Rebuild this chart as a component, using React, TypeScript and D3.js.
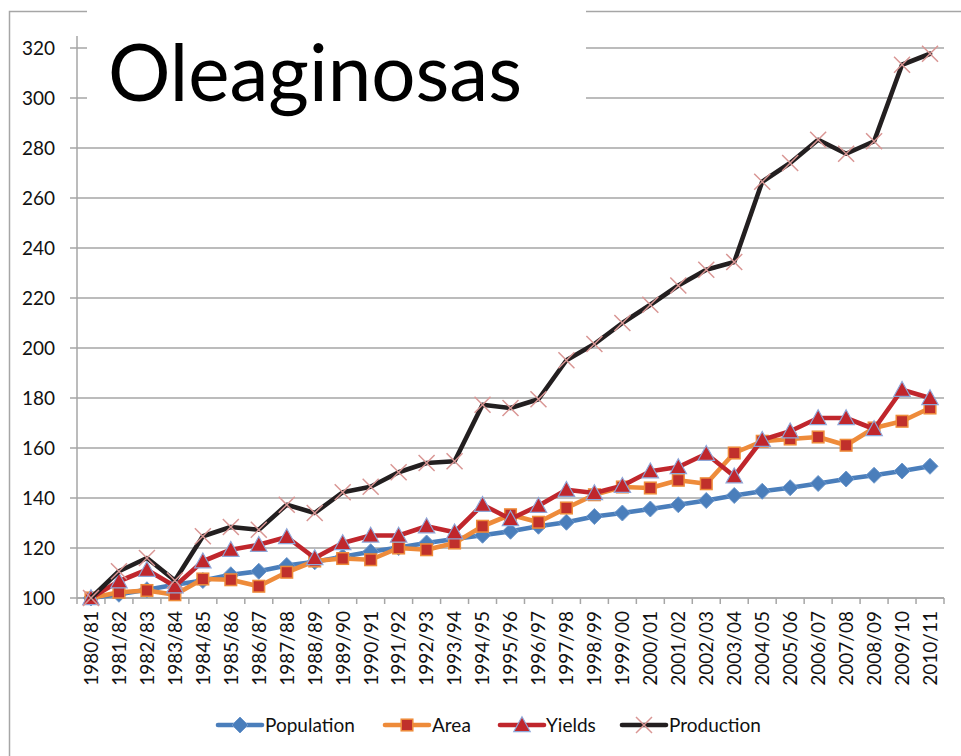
import React from 'react';
import * as d3 from 'd3';

const categories = [
  '1980/81', '1981/82', '1982/83', '1983/84', '1984/85', '1985/86', '1986/87', '1987/88',
  '1988/89', '1989/90', '1990/91', '1991/92', '1992/93', '1993/94', '1994/95', '1995/96',
  '1996/97', '1997/98', '1998/99', '1999/00', '2000/01', '2001/02', '2002/03', '2003/04',
  '2004/05', '2005/06', '2006/07', '2007/08', '2008/09', '2009/10', '2010/11',
];

const population = [100, 101.5, 103.3, 105.3, 107, 109.3, 110.7, 113, 114.5, 116.5, 118.5, 120.2, 122, 123.6, 125.1, 126.7, 128.7, 130.3, 132.6, 134, 135.6, 137.3, 139, 141, 142.7, 144.1, 145.8, 147.6, 149.1, 150.8, 152.7];
const area = [100, 102.3, 103, 101.3, 107.6, 107.3, 104.7, 110.3, 114.8, 115.8, 115.3, 120, 119.3, 122, 128.7, 133.3, 130.3, 136, 141.3, 144.4, 144, 147.1, 145.7, 158, 162.7, 163.6, 164.4, 161.1, 168, 170.7, 176];
const yields = [100, 106.7, 111.3, 104.7, 114.7, 119.3, 121.3, 124.4, 116, 122, 125, 125, 128.7, 126.3, 137.3, 131.6, 136.9, 143.3, 142, 144.9, 150.7, 152.4, 157.7, 148.7, 163.3, 166.7, 172, 172, 167.6, 183.3, 180];
const production = [100, 110.7, 116, 107, 124.7, 128.4, 127.3, 137.3, 134, 142.3, 144.5, 150.3, 154, 154.7, 177.3, 176, 179.5, 195.1, 201.6, 210, 217.3, 225, 231.3, 234.4, 266.5, 274, 283.3, 277.7, 282.7, 313.3, 317.7];

const yTicks = [100, 120, 140, 160, 180, 200, 220, 240, 260, 280, 300, 320];
const seriesNames = ['Population', 'Area', 'Yields', 'Production'];
const titleText = 'Oleaginosas';

const W = 961;
const H = 756;
const FONT = 'Lato, "Open Sans", sans-serif';
const GRID = '#A6A6A6';

type MarkerKind = 'diamond' | 'square' | 'triangle' | 'x';

const styles: { line: string; fill: string; stroke: string; kind: MarkerKind }[] = [
  { line: '#4A7EBB', fill: '#4A7EBB', stroke: '#6E98CC', kind: 'diamond' },
  { line: '#EE8B3A', fill: '#C0302B', stroke: '#EE8B3A', kind: 'square' },
  { line: '#C0262C', fill: '#C0262C', stroke: '#8EA6D8', kind: 'triangle' },
  { line: '#231F20', fill: 'none', stroke: '#D99694', kind: 'x' },
];

function Marker({ kind, x, y, fill, stroke }: { kind: MarkerKind; x: number; y: number; fill: string; stroke: string }) {
  if (kind === 'diamond') {
    const r = 8;
    return <path d={`M${x},${y - r}L${x + r},${y}L${x},${y + r}L${x - r},${y}Z`} fill={fill} stroke={stroke} strokeWidth={1} />;
  }
  if (kind === 'square') {
    const r = 5.8;
    return <rect x={x - r} y={y - r} width={2 * r} height={2 * r} fill={fill} stroke={stroke} strokeWidth={1.5} />;
  }
  if (kind === 'triangle') {
    const r = 8.2;
    return <path d={`M${x},${y - r}L${x + r},${y + r * 0.8}L${x - r},${y + r * 0.8}Z`} fill={fill} stroke={stroke} strokeWidth={1.2} />;
  }
  const r = 8;
  return <path d={`M${x - r},${y - r}L${x + r},${y + r}M${x - r},${y + r}L${x + r},${y - r}`} stroke={stroke} strokeWidth={1.5} fill="none" />;
}

export default function App() {
  const data = [population, area, yields, production];
  const plotLeft = 77;
  const plotRight = 944;
  const x = d3.scaleBand<string>().domain(categories).range([plotLeft, plotRight]).padding(0);
  const cx = (c: string) => (x(c) as number) + x.bandwidth() / 2;
  const y = d3.scaleLinear().domain([100, 320]).range([598, 48]);
  const line = d3.line<number>().x((_, i) => cx(categories[i])).y((d) => y(d));

  const legendItems = [
    { lx: 218, tx: 265 },
    { lx: 385, tx: 432 },
    { lx: 500, tx: 546 },
    { lx: 622, tx: 669 },
  ];
  const legendY = 725;

  return (
    <svg width={W} height={H} style={{ position: 'absolute', left: 0, top: 0, background: '#fff' }} fontFamily={FONT}>
      <rect x={9.5} y={11.5} width={W + 20} height={H + 20} fill="none" stroke={GRID} strokeWidth={1.5} />
      {yTicks.map((t) => (
        <g key={t}>
          <line x1={plotLeft - 7} x2={plotRight} y1={y(t)} y2={y(t)} stroke={GRID} strokeWidth={1.5} />
          <text x={55} y={y(t)} dy="0.36em" textAnchor="end" fontSize={19} fill="#111">{t}</text>
        </g>
      ))}
      <line x1={plotLeft} x2={plotLeft} y1={y(320) - 12} y2={y(100)} stroke={GRID} strokeWidth={1.5} />
      <line x1={plotLeft} x2={plotRight} y1={y(100)} y2={y(100)} stroke={GRID} strokeWidth={1.5} />
      {categories.map((c, i) => (
        <line key={'t' + i} x1={x(c) as number} x2={x(c) as number} y1={y(100)} y2={y(100) + 6} stroke={GRID} strokeWidth={1.5} />
      ))}
      <line x1={plotRight} x2={plotRight} y1={y(100)} y2={y(100) + 6} stroke={GRID} strokeWidth={1.5} />
      {categories.map((c) => (
        <text key={c} transform={`translate(${cx(c)},611) rotate(-90)`} dy="0.36em" textAnchor="end" fontSize={19} fill="#111">{c}</text>
      ))}
      {data.map((vals, si) => (
        <g key={seriesNames[si]}>
          <path d={line(vals) as string} fill="none" stroke={styles[si].line} strokeWidth={4.6} strokeLinejoin="round" strokeLinecap="round" />
          {vals.map((v, i) => (
            <Marker key={i} kind={styles[si].kind} x={cx(categories[i])} y={y(v)} fill={styles[si].fill} stroke={styles[si].stroke} />
          ))}
        </g>
      ))}
      <rect x={87} y={0} width={499} height={125} fill="#fff" />
      <text x={108} y={101} fontSize={80} textLength={414} lengthAdjust="spacingAndGlyphs" fill="#000">{titleText}</text>
      {legendItems.map((it, si) => (
        <g key={'lg' + si}>
          <line x1={it.lx} x2={it.lx + 44} y1={legendY} y2={legendY} stroke={styles[si].line} strokeWidth={4.6} strokeLinecap="round" />
          <Marker kind={styles[si].kind} x={it.lx + 22} y={legendY} fill={styles[si].fill} stroke={styles[si].stroke} />
          <text x={it.tx} y={legendY} dy="0.36em" fontSize={19} fill="#111">{seriesNames[si]}</text>
        </g>
      ))}
    </svg>
  );
}
